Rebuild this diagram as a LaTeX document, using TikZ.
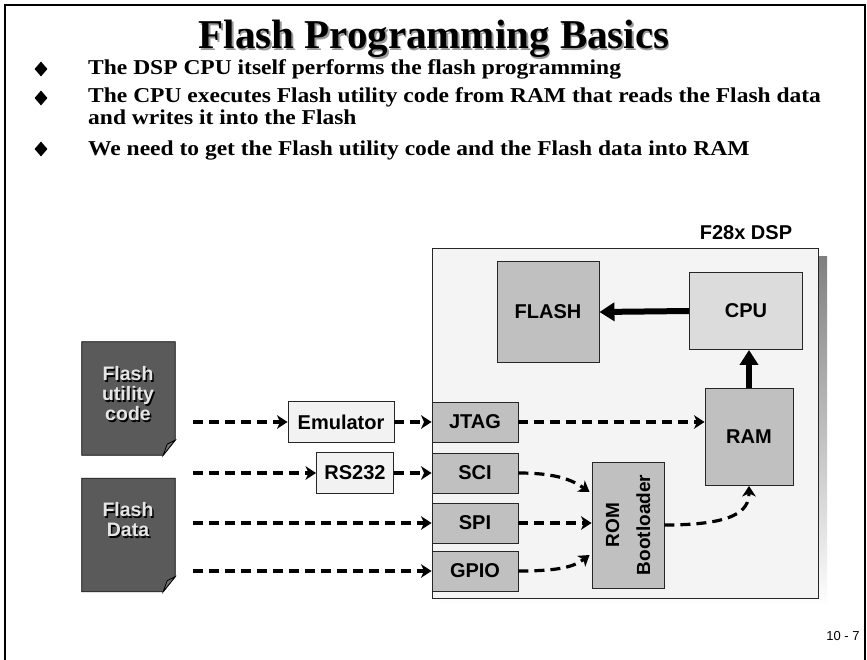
\documentclass[tikz,border=0pt]{standalone}
\usepackage{fontspec}
\setmainfont{Liberation Serif}
\setsansfont{Liberation Sans}
\usepackage{xcolor}
\usepackage{graphicx}
\usetikzlibrary{arrows.meta}
\usetikzlibrary{calc}
\usetikzlibrary{shapes.geometric}
\definecolor{boxgray}{HTML}{C0C0C0}
\definecolor{cpugray}{HTML}{DCDCDC}
\definecolor{paneback}{HTML}{F4F4F4}
\definecolor{lightbox}{HTML}{F2F2F2}
\definecolor{docgray}{HTML}{5A5A5A}
\definecolor{shade}{HTML}{5C5C5C}
\begin{document}
\begin{tikzpicture}[x=1pt,y=-1pt,
  box/.style={draw=black!85,line width=0.9pt,inner sep=0pt,font=\sffamily\bfseries\fontsize{20}{20}\selectfont},
  port/.style={box,fill=boxgray,minimum width=86pt,minimum height=40pt},
  link/.style={box,fill=lightbox,minimum height=41pt},
  flow/.style={line width=3.2pt,dash pattern=on 10pt off 6pt,-{Stealth[length=10.5pt,width=13.5pt,inset=3pt]}},
  bigarrow/.style={line width=6pt,-{Triangle[length=15pt,width=18pt]}},
  bul/.style={diamond,fill=black,inner sep=0pt,minimum width=13pt,minimum height=15pt},
  bultext/.style={anchor=base west,inner sep=0pt,font=\bfseries\fontsize{23.5}{18}\selectfont},
  doctext/.style={inner sep=0pt,align=center,font=\sffamily\bfseries\fontsize{19.5}{20}\selectfont}]
\useasboundingbox (0,0) rectangle (867,660);
\draw[line width=1.2pt] (5,670) -- (5,5) -- (865,5) -- (865,670);
\node[anchor=base,text=black!40,font=\bfseries\fontsize{41}{41}\selectfont] (ttlsh) at (435.5,50.5) {Flash Programming Basics};
\node[anchor=base,font=\bfseries\fontsize{41}{41}\selectfont] (ttl) at (434,49) {Flash Programming Basics};
\node[bul] (b1) at (41,69) {};
\node[bul] (b2) at (41,98) {};
\node[bul] (b3) at (41,149) {};
\node[bultext] (t1) at (88,75) {\scalebox{1}[0.9]{The DSP CPU itself performs the flash programming}};
\node[bultext] (t2) at (88,103) {\scalebox{1}[0.9]{The CPU executes Flash utility code from RAM that reads the Flash data}};
\node[bultext] (t2b) at (88,125) {\scalebox{1}[0.9]{and writes it into the Flash}};
\node[bultext] (t3) at (88,156) {\scalebox{1}[0.9]{We need to get the Flash utility code and the Flash data into RAM}};

\fill[shade] (441,257) rectangle (827,607);
\node[box,fill=paneback,minimum width=386pt,minimum height=350pt] (dsp) at (625,423) {};
\node[box,draw=none] (dsplbl) at (746,233) {F28x DSP};
\node[box,fill=boxgray,minimum width=102pt,minimum height=101pt] (flash) at (548,312) {FLASH};
\node[box,fill=cpugray,minimum width=113pt,minimum height=77pt] (cpu) at (746,311) {CPU};
\node[box,fill=boxgray,minimum width=88pt,minimum height=97pt] (ram) at (749,437) {RAM};
\node[port] (jtag) at (475,422) {JTAG};
\node[port] (sci) at (475,473) {SCI};
\node[port] (spi) at (475,523) {SPI};
\node[port] (gpio) at (475,571) {GPIO};
\node[box,fill=boxgray,minimum width=72pt,minimum height=126pt,align=center] (rom) at (628,525) {};
\node[box,draw=none,align=center,rotate=90,font=\sffamily\bfseries\fontsize{19}{31}\selectfont] (romtxt) at (rom) {ROM\\Bootloader};
\node[link,minimum width=106pt] (emu) at (341,422) {Emulator};
\node[link,minimum width=77pt] (rs) at (355,473) {RS232};

\node[minimum width=93pt,minimum height=113pt] (code) at (128.5,398.5) {};
\node[minimum width=93pt,minimum height=113pt] (data) at (128.5,535) {};
\fill[docgray,draw=black,line width=0.8pt] (code.north west) -- (code.north east) -- ($(code.south east)+(0,-15)$) -- ($(code.south east)+(-12,0)$) -- (code.south west) -- cycle;
\filldraw[fill=docgray!85,draw=black,line width=0.8pt] ($(code.south east)+(0,-15)$) -- ($(code.south east)+(-8,-11)$) -- ($(code.south east)+(-12,0)$) -- cycle;
\fill[docgray,draw=black,line width=0.8pt] (data.north west) -- (data.north east) -- ($(data.south east)+(0,-15)$) -- ($(data.south east)+(-12,0)$) -- (data.south west) -- cycle;
\filldraw[fill=docgray!85,draw=black,line width=0.8pt] ($(data.south east)+(0,-15)$) -- ($(data.south east)+(-8,-11)$) -- ($(data.south east)+(-12,0)$) -- cycle;
\node[doctext,text=black] (codesh) at (129.5,395.5) {Flash\\utility\\code};
\node[doctext,text=black!10] (codetx) at (128,394) {Flash\\utility\\code};
\node[doctext,text=black] (datash) at (129.5,521.5) {Flash\\Data};
\node[doctext,text=black!10] (datatx) at (128,520) {Flash\\Data};

\coordinate (in1) at ($(code.east |- emu.west)+(18,0)$);
\coordinate (in2) at ($(code.east |- rs.west)+(18,0)$);
\coordinate (in3) at ($(code.east |- spi.west)+(18,0)$);
\coordinate (in4) at ($(code.east |- gpio.west)+(18,0)$);
\draw[flow] (in1) -- (emu.west);
\draw[flow] (in2) -- (rs.west);
\draw[flow] (in3) -- (spi.west);
\draw[flow] (in4) -- (gpio.west);
\draw[flow] (emu.east) -- (jtag.west);
\draw[flow] (rs.east) -- (sci.west);
\draw[flow] (jtag.east) -- (jtag.east -| ram.west);
\draw[flow] (sci.east) .. controls ($(sci.east)+(40,0)$) and ($(rom.west)+(-18,-44)$) .. ($(rom.west)+(-2,-33)$);
\draw[flow] (spi.east) -- (spi.east -| rom.west);
\draw[flow] (gpio.east) .. controls ($(gpio.east)+(40,0)$) and ($(rom.west)+(-18,42)$) .. ($(rom.west)+(-2,30)$);
\draw[flow] (rom.east) .. controls ($(rom.east)+(70,0)$) and ($(ram.south)+(0,25)$) .. (ram.south);
\draw[bigarrow] (cpu.west) -- (flash.east);
\draw[bigarrow] (ram.north) -- (ram.north |- cpu.south);

\node[font=\sffamily\fontsize{13}{13}\selectfont,inner sep=0pt] (pg) at (843,636) {10 - 7};
\end{tikzpicture}
\end{document}
